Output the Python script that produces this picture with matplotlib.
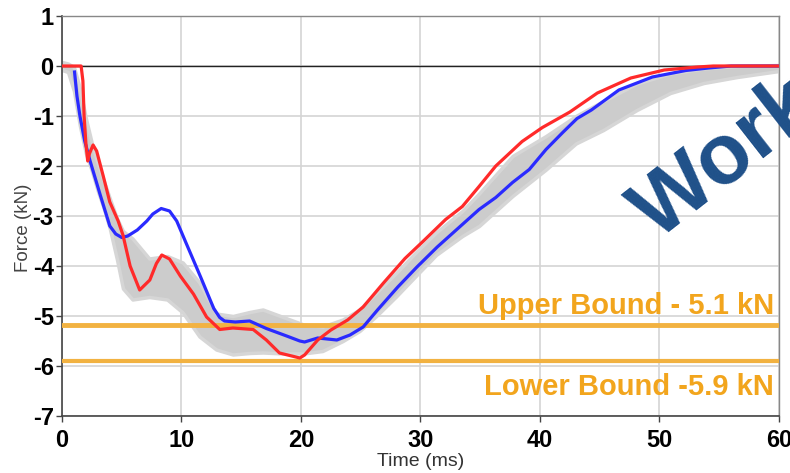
import matplotlib
matplotlib.use("Agg")
import matplotlib.pyplot as plt

plt.rcParams['font.family'] = ['Liberation Sans', 'DejaVu Sans']
plt.rcParams['axes.unicode_minus'] = False

# ---- data ----
red_t = [0, 1.6, 1.75, 1.85, 2.0, 2.15, 2.3, 2.6, 2.9, 3.45, 4.0, 4.7, 5.1, 5.7, 6.5, 7.35,
         7.9, 8.35, 9.0, 9.9, 11.0, 12.1, 13.2, 14.3, 16.0, 17.1, 18.2, 19.4, 19.9, 20.3,
         21.4, 22.5, 23.9, 25.2, 26.9, 28.7, 30.2, 32.1, 33.5, 34.9, 36.3, 38.5, 40.2,
         42.5, 44.8, 47.6, 50.4, 53.2, 54.5, 60]
red_f = [0, 0, -0.3, -1.0, -1.55, -1.9, -1.75, -1.58, -1.7, -2.2, -2.72, -3.1, -3.38, -4.0,
         -4.48, -4.28, -3.95, -3.78, -3.86, -4.2, -4.56, -5.02, -5.27, -5.24, -5.27, -5.48,
         -5.74, -5.81, -5.84, -5.78, -5.48, -5.28, -5.08, -4.82, -4.34, -3.85, -3.51, -3.07,
         -2.81, -2.41, -2.0, -1.51, -1.23, -0.92, -0.54, -0.24, -0.08, -0.02, 0, 0]

blue_t = [1.05, 1.25, 1.5, 1.9, 2.35, 3.2, 4.0, 4.5, 5.0, 5.5, 6.3, 7.1, 7.6, 8.3, 9.0, 9.6,
          10.4, 11.6, 12.7, 13.2, 13.6, 14.5, 15.7, 17.1, 18.8, 19.9, 20.3, 21.4, 23.0, 24.1,
          25.2, 26.4, 28.1, 29.7, 31.4, 32.1, 33.5, 34.9, 36.3, 37.7, 39.1, 40.5, 41.9, 43.1,
          44.3, 46.6, 49.4, 52.2, 54.1, 56, 60]
blue_f = [-0.12, -0.6, -1.0, -1.5, -1.9, -2.58, -3.2, -3.36, -3.43, -3.4, -3.28, -3.1, -2.96,
          -2.85, -2.9, -3.1, -3.55, -4.22, -4.85, -5.03, -5.1, -5.12, -5.1, -5.25, -5.4, -5.5,
          -5.52, -5.44, -5.48, -5.38, -5.22, -4.88, -4.42, -4.02, -3.62, -3.47, -3.17, -2.87,
          -2.63, -2.33, -2.07, -1.67, -1.33, -1.05, -0.88, -0.48, -0.22, -0.09, -0.04, 0, 0]

band_t = [0.0, 0.5, 1.0, 1.5, 2.0, 2.5, 3.0, 3.5, 4.0, 4.6, 5.1, 5.9, 7.3, 8.8, 10.1, 11.5,
          12.9, 14.3, 15.7, 16.8, 18.5, 20.2, 21.8, 23.5, 24.9, 26.3, 28.0, 29.6, 31.3,
          33.5, 34.9, 37.7, 40.5, 43.0, 45.3, 48.1, 50.9, 53.7, 56.5, 60.0]
band_hi = [0.08, 0.05, -0.02, -0.45, -1.05, -1.55, -1.95, -2.3, -2.65, -3.05, -3.3, -3.45,
           -3.85, -3.8, -3.93, -4.33, -4.95, -5.0, -4.92, -4.87, -5.02, -5.17, -5.21, -5.07,
           -4.87, -4.53, -4.13, -3.73, -3.33, -2.9, -2.55, -1.8, -1.4, -1.0, -0.7, -0.35,
           -0.15, -0.05, 0.0, 0.02]
band_lo = [-0.08, -0.12, -0.5, -1.2, -1.75, -2.1, -2.5, -2.85, -3.25, -3.87, -4.45, -4.67,
           -4.62, -4.67, -4.93, -5.41, -5.67, -5.77, -5.74, -5.73, -5.75, -5.75, -5.7, -5.5,
           -5.3, -5.0, -4.6, -4.2, -3.78, -3.4, -3.2, -2.6, -2.07, -1.55, -1.28, -0.88,
           -0.54, -0.34, -0.22, -0.1]

upper_bound = -5.18
lower_bound = -5.9
upper_label = "Upper Bound - 5.1 kN"
lower_label = "Lower Bound -5.9 kN"
x_ticks = [0, 10, 20, 30, 40, 50, 60]
y_ticks = [1, 0, -1, -2, -3, -4, -5, -6, -7]
watermark = "Work"

# ---- figure ----
fig = plt.figure(figsize=(7.9, 4.73), dpi=100)
ax = fig.add_axes([62 / 790, 57 / 473, 717 / 790, 400 / 473])

ax.set_xlim(0, 60)
ax.set_ylim(-7, 1)
ax.set_xticks(x_ticks)
ax.set_yticks(y_ticks)
ax.grid(True, color='#d4d4d4', linewidth=1.2, zorder=0)
ax.set_axisbelow(True)

ax.fill_between(band_t, band_lo, band_hi, color='#cccccc', linewidth=2.5,
                edgecolor='#d6d6d6', zorder=1)
ax.axhline(0, color='#222222', linewidth=1.0, zorder=2)
ax.axhline(upper_bound, color='#f2b241', linewidth=3.5, zorder=3)
ax.axhline(lower_bound, color='#f2b241', linewidth=3.0, zorder=3)

ax.plot(blue_t, blue_f, color='#2a2aff', linewidth=2.3, zorder=4)
ax.plot(red_t, red_f, color='#ff2a2a', linewidth=2.3, zorder=5)

ax.text(59.6, -4.96, upper_label, ha='right', va='baseline', fontsize=21,
        fontweight='bold', color='#f2a51d', zorder=6)
ax.text(59.6, -6.58, lower_label, ha='right', va='baseline', fontsize=21,
        fontweight='bold', color='#f2a51d', zorder=6)

ax.set_xlabel("Time (ms)", fontsize=14, color='#333333', labelpad=1)
ax.set_ylabel("Force (kN)", fontsize=13.5, color='#444444')
ax.yaxis.set_label_coords(-0.042, 0.47)

ax.tick_params(axis='both', direction='out', length=4, width=1, color='#444444',
               labelsize=17, labelcolor='black', pad=2)
ax.tick_params(axis='x', pad=5)
for lab in ax.get_xticklabels() + ax.get_yticklabels():
    lab.set_fontweight('bold')

for side in ['left', 'bottom']:
    ax.spines[side].set_color('#444444')
    ax.spines[side].set_linewidth(1.2)
for side in ['top', 'right']:
    ax.spines[side].set_color('#888888')
    ax.spines[side].set_linewidth(1.0)

fig.text(657 / 790, (473 - 241) / 473, watermark, rotation=38, rotation_mode='anchor',
         ha='left', va='baseline', fontsize=61, fontweight='bold', color='#1f5089',
         zorder=10)

fig.savefig("out.png", dpi=100)
